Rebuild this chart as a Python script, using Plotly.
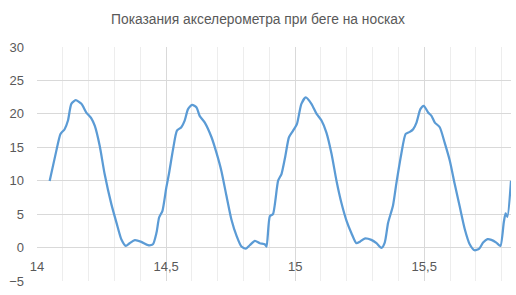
import plotly.graph_objects as go

title_text = "Показания акселерометра при беге на носках"

time_s = [14.049, 14.075, 14.091, 14.107, 14.12, 14.133, 14.15, 14.172, 14.191, 14.211,
          14.224, 14.243, 14.262, 14.288, 14.308, 14.327, 14.344, 14.359, 14.379, 14.404,
          14.43, 14.449, 14.463, 14.473, 14.486, 14.501, 14.511, 14.527, 14.542, 14.559,
          14.572, 14.585, 14.601, 14.618, 14.63, 14.65, 14.676, 14.695, 14.714, 14.734,
          14.753, 14.773, 14.792, 14.809, 14.824, 14.844, 14.863, 14.882, 14.889, 14.902,
          14.914, 14.934, 14.947, 14.962, 14.976, 14.992, 15.007, 15.024, 15.041, 15.063,
          15.083, 15.102, 15.121, 15.141, 15.16, 15.179, 15.199, 15.218, 15.237, 15.25,
          15.269, 15.295, 15.315, 15.334, 15.347, 15.36, 15.379, 15.392, 15.411, 15.428,
          15.444, 15.457, 15.47, 15.485, 15.498, 15.515, 15.528, 15.541, 15.56, 15.579,
          15.599, 15.618, 15.637, 15.657, 15.676, 15.695, 15.713, 15.728, 15.745, 15.76,
          15.779, 15.795, 15.808, 15.815, 15.822, 15.836]

accel = [9.97, 14.5, 17.0, 17.7, 19.0, 21.5, 22.05, 21.5, 20.2, 19.3,
         18.2, 15.2, 11.0, 6.5, 3.7, 1.2, 0.25, 0.65, 1.1, 0.85,
         0.35, 0.5, 2.25, 4.5, 5.5, 9.0, 11.0, 14.7, 17.5, 18.0,
         19.0, 20.7, 21.35, 20.95, 19.7, 18.7, 16.5, 14.2, 11.5, 7.7,
         4.2, 1.75, 0.15, -0.15, 0.35, 1.0, 0.65, 0.5, 0.15, 4.7,
         5.0, 10.0, 11.0, 13.7, 16.5, 17.5, 18.5, 21.5, 22.45, 21.5,
         20.0, 19.0, 17.2, 14.0, 10.0, 6.7, 4.0, 2.15, 0.65, 0.85,
         1.35, 1.15, 0.65, -0.05, 0.75, 3.7, 6.3, 9.6, 14.0, 17.0,
         17.3, 17.7, 18.7, 20.7, 21.2, 20.2, 19.7, 18.7, 18.0, 15.7,
         13.0, 9.5, 6.2, 2.75, 0.5, -0.4, -0.15, 0.75, 1.25, 1.15,
         0.75, 0.25, 3.75, 5.1, 4.6, 10.0]

x_ticks = [14, 14.5, 15, 15.5]
y_ticks = [-5, 0, 5, 10, 15, 20, 25, 30]

fig = go.Figure()
fig.add_trace(go.Scatter(
    x=time_s, y=accel, mode="lines",
    line=dict(color="#5b9bd5", width=2.25, shape="spline", smoothing=0.6),
    hoverinfo="skip", showlegend=False,
))

font_family = "Liberation Sans, Arial, sans-serif"

fig.update_layout(
    width=516, height=295,
    margin=dict(l=37, r=5, t=47, b=14),
    paper_bgcolor="white", plot_bgcolor="white",
    separators=", ",
    font=dict(family=font_family, color="#595959", size=13),
    title=dict(text=title_text, x=0.5, xanchor="center", y=1 - 19 / 295, yanchor="middle",
               yref="container", font=dict(family=font_family, size=13.8, color="#595959")),
    xaxis=dict(
        range=[14, 15.836], tickvals=x_ticks, showgrid=True, gridcolor="#d9d9d9", gridwidth=1,
        minor=dict(dtick=0.1, tick0=14, showgrid=True, gridcolor="#ededed", gridwidth=1),
        zeroline=False, showline=False, ticks="", anchor="free", position=5 / 35,
        ticklabelstandoff=9,
    ),
    yaxis=dict(
        range=[-5, 30], tickvals=y_ticks, showgrid=True, gridcolor="#d9d9d9", gridwidth=1,
        zeroline=True, zerolinecolor="#d9d9d9", zerolinewidth=1, showline=False, ticks="",
        ticklabelstandoff=12,
    ),
)

fig.write_html("out.html")
